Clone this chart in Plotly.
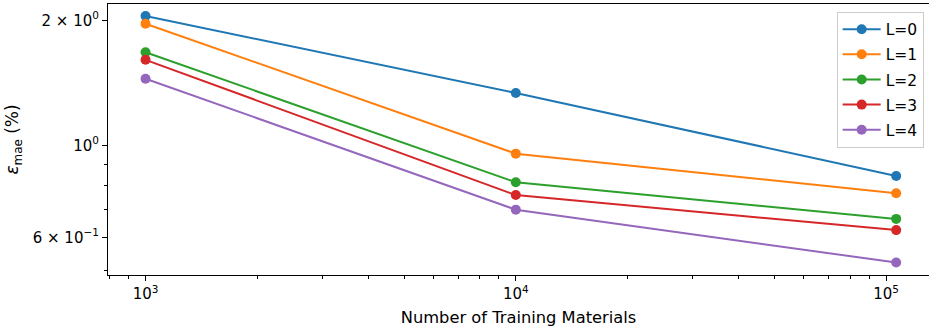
import plotly.graph_objects as go

n_train = [1000, 10000, 106500]
series_names = ["L=0", "L=1", "L=2", "L=3", "L=4"]
mae_L0 = [2.05, 1.337, 0.844]
mae_L1 = [1.963, 0.955, 0.767]
mae_L2 = [1.676, 0.815, 0.665]
mae_L3 = [1.607, 0.759, 0.625]
mae_L4 = [1.447, 0.700, 0.522]
colors = ["#1f77b4", "#ff7f0e", "#2ca02c", "#d62728", "#9467bd"]

y_tick_vals = [0.6, 1.0, 2.0]
y_tick_text = ["6 × 10<sup>−1</sup>", "10<sup>0</sup>", "2 × 10<sup>0</sup>"]
y_minor_vals = [0.5, 0.7, 0.8, 0.9]
x_tick_vals = [1e3, 1e4, 1e5]
x_tick_text = ["10<sup>3</sup>", "10<sup>4</sup>", "10<sup>5</sup>"]
x_minor_vals = [800, 900] + [k * 1e3 for k in range(2, 10)] + [k * 1e4 for k in range(2, 10)]

fig = go.Figure()
for i, (name, vals) in enumerate(zip(series_names, [mae_L0, mae_L1, mae_L2, mae_L3, mae_L4])):
    fig.add_trace(go.Scatter(
        x=n_train, y=vals, name=name, mode="lines+markers",
        line=dict(color=colors[i], width=2),
        marker=dict(color=colors[i], size=10),
        legendgroup=name,
    ))

font = "DejaVu Sans"
fig.update_layout(
    width=929, height=327,
    margin=dict(l=108, r=0, t=4, b=52, autoexpand=False),
    paper_bgcolor="white", plot_bgcolor="white",
    font=dict(family=font, size=14, color="black"),
    showlegend=True,
    legend=dict(
        x=0.9935, y=0.972, xanchor="right", yanchor="top",
        bgcolor="rgba(255,255,255,0.8)", bordercolor="#cccccc", borderwidth=1,
        font=dict(size=15.5), tracegroupgap=2, itemwidth=38,
    ),
)
fig.update_xaxes(
    type="log", range=[2.8986, 5.116], automargin=False,
    tickvals=x_tick_vals, ticktext=x_tick_text, tickfont=dict(size=15),
    ticks="outside", ticklen=5, tickwidth=1.1, tickcolor="black",
    minor=dict(tickvals=x_minor_vals, ticks="outside", ticklen=3, tickwidth=0.8, tickcolor="black"),
    showline=True, linecolor="black", linewidth=1.1, mirror=True,
    showgrid=False, zeroline=False,
    title=dict(text="Number of Training Materials", standoff=13, font=dict(size=16.3)),
)
fig.update_yaxes(
    type="log", range=[-0.3123, 0.3405], automargin=False,
    tickvals=y_tick_vals, ticktext=y_tick_text, tickfont=dict(size=15),
    ticks="outside", ticklen=5, tickwidth=1.1, tickcolor="black",
    minor=dict(tickvals=y_minor_vals, ticks="outside", ticklen=3, tickwidth=0.8, tickcolor="black"),
    showline=True, linecolor="black", linewidth=1.1, mirror=True,
    showgrid=False, zeroline=False,
    title=dict(text="<i>ε</i><sub>mae</sub> (%)", standoff=9, font=dict(size=17)),
)
fig.write_html("out.html", config={"displayModeBar": False},
               post_script="document.body.style.margin='0';")
